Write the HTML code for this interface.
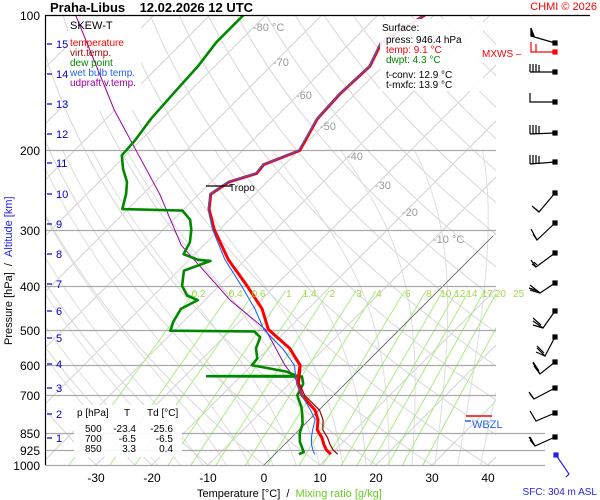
<!DOCTYPE html>
<html><head><meta charset="utf-8"><style>
body{margin:0;background:#fff}
svg{display:block;font-family:"Liberation Sans",sans-serif}
</style></head><body>
<svg id="c" width="600" height="500" viewBox="0 0 600 500" xmlns="http://www.w3.org/2000/svg">
<defs><clipPath id="pc"><rect x="45" y="15" width="451" height="450"/></clipPath></defs>
<g id="bg" clip-path="url(#pc)"></g>
<g id="hl"></g>
<g id="ser" clip-path="url(#pc)"></g>
<g id="ann"></g>
</svg>
<script>
// ---- data ----
const tempP = [946,925,900,870,835,794,755,700,658,600,550,500,450,400,350,300,270,250,235,225,215,200,170,150,130,115,100];
const tempT = [10,8.4,7,5.5,3.2,1.6,-0.7,-5.7,-8.6,-11.4,-16.3,-23.4,-28.2,-35,-43,-50.9,-55.5,-57.9,-56.8,-53.4,-53.7,-49.8,-52.3,-52.7,-52.3,-54.5,-51.6];
const virtT = [11.2,9.6,8.1,6.5,4.2,2.5,0.1,-5.2,-8.3,-11.2,-16.2,-23.3,-28.1,-35,-43,-50.9,-55.5,-57.9,-56.8,-53.4,-53.7,-49.8,-52.3,-52.7,-52.3,-54.5,-51.6];
const wetbT = [7.1,6,4.8,3.6,2.4,1.1,-1.5,-5.7,-8.8,-12.4,-17.6,-24.2,-29.5,-36,-43.6,-51.2,-55.7,-58,-57,-53.6,-53.8,-50,-52.4,-52.8,-52.4,-54.6,-51.7];
const dewP = [946,936,889,850,809,766,742,700,660,636,635,634,620,600,580,550,520,505,503,480,450,430,420,400,370,352,350,340,320,300,285,272,270,250,235,220,205,190,170,150,130,115,100];
const dewT = [4.3,4.8,2.3,0.7,-0.5,-2.5,-3.75,-6.5,-7.5,-9,-26,-10,-12.7,-20,-20.2,-22.3,-23.5,-25.6,-40.7,-41.8,-42.7,-41.3,-44,-46.6,-49,-46,-48.4,-52,-53,-55,-57,-60,-71,-73,-75,-78,-80.7,-81,-82,-82.5,-83,-84,-84];
const parcelP = [660,600,500,430,325,250,163,100];
const parcelT = [-8.2,-14.1,-23.9,-35.5,-54,-67,-90,-114];
const pressLevels = [100,200,300,400,500,600,700,850,925,1000];
const tempTicks = [-30,-20,-10,0,10,20,30,40];
const mixRatios = [0.2,0.4,0.6,1,1.4,2,3,4,6,8,10,12,14,17,20,25];
const kmTicks = [[1,438],[2,414],[3,388],[4,364],[5,338],[6,311],[7,284],[8,254],[9,224],[10,194],[11,163],[12,134],[13,104],[14,74],[15,44]];

const NS="http://www.w3.org/2000/svg";
function yP(p){return 15+450*Math.log10(p/100);}
function xT(T,p){return 264+5.6*T+(465-yP(p));}
function mk(tag,attrs,parent){const e=document.createElementNS(NS,tag);for(const k in attrs)e.setAttribute(k,attrs[k]);parent.appendChild(e);return e;}
function txt(s,x,y,attrs,parent){const e=mk('text',Object.assign({x:x,y:y,'font-size':11},attrs),parent);e.textContent=s;return e;}
const bg=document.getElementById('bg'),hl=document.getElementById('hl'),ser=document.getElementById('ser'),ann=document.getElementById('ann');

for(let T=-140;T<=50;T+=10){
  const l=mk('line',{x1:xT(T,1050),y1:yP(1050),x2:xT(T,100),y2:yP(100),stroke:'#d4d4d4','stroke-width':1},bg);
  
  
}
for(let th=-40;th<=220;th+=10){
  let d='';for(let p=1050;p>=100;p-=10){const T=(th+273.15)*Math.pow(p/1000,0.286)-273.15;d+=(d?'L':'M')+xT(T,p).toFixed(1)+','+yP(p).toFixed(1);}
  const l=mk('path',{d:d,fill:'none',stroke:'#d8d8d8','stroke-width':1},bg);
  
  
}
function es(T){return 6.112*Math.exp(17.67*T/(T+243.5));}
for(let T0=-20;T0<=44;T0+=4){
  let T=T0,d='';
  for(let p=1050;p>=200;p-=5){
    d+=(d?'L':'M')+xT(T,p).toFixed(1)+','+yP(p).toFixed(1);
    const Tk=T+273.15,e=es(T),rs=0.622*e/(p-e),L=2.5e6;
    const g=(287*Tk+L*rs)/(1004+L*L*rs*0.622/(287*Tk*Tk))/p;
    T-=g*5;
  }
  const l=mk('path',{d:d,fill:'none',stroke:'#dedede','stroke-width':1},bg);
  
  
}
function tdFromW(w,p){const e=w*p/(622+w);const a=Math.log(e/6.112);return 243.5*a/(17.67-a);}
mixRatios.forEach(w=>{
  const l=mk('line',{x1:xT(tdFromW(w,1000),1000),y1:yP(1000),x2:xT(tdFromW(w,410),410),y2:yP(410),stroke:'#a8ee80','stroke-width':1},bg);
  
  
  const t=txt(String(w),xT(tdFromW(w,400),400),297,{fill:'#a4d84a','font-size':10,'text-anchor':'middle'},ann);
  
  
});
mk('line',{x1:xT(0,1000),y1:yP(1000),x2:xT(0,310),y2:yP(310),stroke:'#666','stroke-width':0.8},bg);

pressLevels.forEach(p=>{
  const y=Math.round(yP(p))+0.5;
  const x2=p>=850?545:496;
  if(p>100){const l=mk('line',{x1:45,y1:y,x2:x2,y2:y,stroke:'#aaa','stroke-width':1.3},hl);
  
  }
  const t=txt(String(p),40,y+4.5,{'font-size':12,'text-anchor':'end',fill:'#000'},ann);
  
  
});
tempTicks.forEach(T=>{
  const t=txt(String(T),264+5.6*T,482,{'font-size':12,'text-anchor':'middle',fill:'#000'},ann);
  
  
});
kmTicks.forEach(k=>{
  mk('line',{x1:47,y1:k[1],x2:52,y2:k[1],stroke:'#00c','stroke-width':1.2},ann);
  const t=txt(String(k[0]),56,k[1]+4,{'font-size':11,fill:'#00c'},ann);
  
  
});
[['-80 °C',253,31],['-70',273,66],['-60',296,99],['-50',320,130],['-40',347,160],['-30',375,189],['-20',402,216],['-10 °C',433,243]].forEach(a=>{
  const t=txt(a[0],a[1],a[2],{'font-size':11,fill:'#999'},ann);
  
  
});

const lb=mk('rect',{x:68,y:17,width:73,height:93,fill:'#fff'},ser);



function line(P,T,color,w,name){
  let d='';P.forEach((p,i)=>{d+=(i?'L':'M')+xT(T[i],p).toFixed(1)+','+yP(p).toFixed(1);});
  const e=mk('path',{d:d,fill:'none',stroke:color,'stroke-width':w,'stroke-linejoin':'round'},ser);
  
  
}
line(parcelP,parcelT,'#a000a0',1,'updraft-virtual-temperature-line');
line(dewP,dewT,'#008800',2.6,'dew-point-line');
line(tempP,virtT,'#990000',1.2,'virtual-temperature-line');
line(tempP,tempT,'#ff0000',3,'temperature-line');
line(tempP,wetbT,'#2266ee',1.1,'wet-bulb-line');

mk('line',{x1:45.5,y1:15,x2:45.5,y2:465,stroke:'#000','stroke-width':1.2},ann);
mk('line',{x1:45,y1:15.5,x2:590,y2:15.5,stroke:'#000','stroke-width':1.2},ann);

mk('line',{x1:206,y1:186,x2:232,y2:186,stroke:'#000','stroke-width':1.2},ann);
txt('Tropo',229,191,{'font-size':10,fill:'#000'},ann);

mk('line',{x1:466,y1:416,x2:492,y2:416,stroke:'#f00','stroke-width':1.5},ann);
mk('line',{x1:465,y1:421,x2:471,y2:421,stroke:'#2266ee','stroke-width':1.5},ann);
txt('WBZL',472,428,{'font-size':11,fill:'#2266ee'},ann);
</script>
<svg width="600" height="500" style="position:absolute;left:0;top:0" xmlns="http://www.w3.org/2000/svg" font-family="Liberation Sans, sans-serif">
<text x="50" y="12" font-size="13" font-weight="bold">Praha-Libus&#160;&#160;&#160;&#160;12.02.2026 12 UTC</text>
<text x="597" y="10" font-size="11" fill="#f00" text-anchor="end">CHMI © 2026</text>
<g>
<text x="70" y="29" font-size="11">SKEW-T</text>
<text x="70" y="46" font-size="10" fill="#f00">temperature</text>
<text x="70" y="56" font-size="10" fill="#990000">virt.temp.</text>
<text x="70" y="66" font-size="10" fill="#008800">dew point</text>
<text x="70" y="76" font-size="10" fill="#2266ee">wet bulb temp.</text>
<text x="70" y="86" font-size="10" fill="#a000a0">udpraft v.temp.</text>
</g>
<g>
<rect x="380" y="19" width="103" height="72" fill="#fff" opacity="0.9"/>
<text x="382" y="31" font-size="10">Surface:</text>
<text x="386" y="43" font-size="10">press: 946.4 hPa</text>
<text x="386" y="53" font-size="10" fill="#f00">temp: 9.1 °C</text>
<text x="386" y="63" font-size="10" fill="#008800">dwpt: 4.3 °C</text>
<text x="386" y="78" font-size="10">t-conv: 12.9 °C</text>
<text x="386" y="88" font-size="10">t-mxfc: 13.9 °C</text>
</g>
<g>
<rect x="74" y="405" width="108" height="52" fill="#fff" opacity="0.9"/>
<text x="77" y="416" font-size="10">p [hPa]</text><text x="124" y="416" font-size="10">T</text><text x="147" y="416" font-size="10">Td [°C]</text>
<text x="85" y="432" font-size="10">500</text><text x="136" y="432" font-size="10" text-anchor="end">-23.4</text><text x="173" y="432" font-size="10" text-anchor="end">-25.6</text>
<text x="85" y="442" font-size="10">700</text><text x="136" y="442" font-size="10" text-anchor="end">-6.5</text><text x="173" y="442" font-size="10" text-anchor="end">-6.5</text>
<text x="85" y="452" font-size="10">850</text><text x="136" y="452" font-size="10" text-anchor="end">3.3</text><text x="173" y="452" font-size="10" text-anchor="end">0.4</text>
</g>
<text x="197" y="497" font-size="11">Temperature [°C]&#160; / &#160;<tspan fill="#66cc22">Mixing ratio [g/kg]</tspan></text>
<text transform="translate(12,345) rotate(-90)" font-size="11">Pressure [hPa]&#160; / &#160;<tspan fill="#2222ee">Altitude [km]</tspan></text>
<text x="597" y="495" font-size="10" fill="#2222ee" text-anchor="end">SFC: 304 m ASL</text>
<text x="482" y="57" font-size="10" fill="#f00">MXWS –</text>
<g stroke="#000" stroke-width="1.2" fill="none">
<polyline points="555,43 531,36 531,28"/><polygon points="531,28 531,36 534,36" fill="#000"/><rect x="553" y="41" width="4" height="4" fill="#000"/>
<g stroke="#f00"><polyline points="555,52 531,52 531,42"/><line x1="536" y1="52" x2="536" y2="44"/><rect x="553" y="50" width="4" height="4" fill="#f00"/></g>
<polyline points="555,72 530,72"/><line x1="530" y1="72" x2="530" y2="64"/><line x1="533" y1="72" x2="533" y2="64"/><line x1="536" y1="72" x2="536" y2="64"/><line x1="539" y1="72" x2="539" y2="65"/><rect x="553" y="70" width="4" height="4" fill="#000"/>
<polyline points="555,102 530,102 530,93"/><rect x="553" y="100" width="4" height="4" fill="#000"/>
<polyline points="555,133 530,134"/><line x1="530" y1="134" x2="530" y2="125"/><line x1="533" y1="134" x2="533" y2="125"/><line x1="536" y1="134" x2="536" y2="125"/><line x1="539" y1="134" x2="539" y2="126"/><rect x="553" y="131" width="4" height="4" fill="#000"/>
<polyline points="555,162 530,164"/><line x1="530" y1="164" x2="530" y2="155"/><line x1="533" y1="164" x2="533" y2="155"/><line x1="536" y1="164" x2="536" y2="155"/><line x1="539" y1="164" x2="539" y2="156"/><rect x="553" y="160" width="4" height="4" fill="#000"/>
<polyline points="555,193 539,212 532,206"/><line x1="539" y1="212" x2="536" y2="209"/><rect x="553" y="191" width="4" height="4" fill="#000"/>
<polyline points="555,223 537,240 531,229"/><line x1="537" y1="240" x2="533" y2="234"/><rect x="553" y="221" width="4" height="4" fill="#000"/>
<polyline points="555,253 536,267 531,260"/><line x1="536" y1="267" x2="532" y2="264"/><line x1="537" y1="265" x2="534" y2="262"/><rect x="553" y="251" width="4" height="4" fill="#000"/>
<polyline points="555,283 540,293 530,285"/><line x1="540" y1="293" x2="530" y2="290"/><line x1="538" y1="291" x2="529" y2="288"/><rect x="553" y="281" width="4" height="4" fill="#000"/>
<polyline points="555,311 543,328 533,321"/><line x1="543" y1="328" x2="533" y2="325"/><line x1="541" y1="325" x2="533" y2="318"/><rect x="553" y="309" width="4" height="4" fill="#000"/>
<polyline points="555,337 545,356 537,348"/><line x1="545" y1="356" x2="536" y2="352"/><line x1="544" y1="353" x2="537" y2="346"/><rect x="553" y="335" width="4" height="4" fill="#000"/>
<polyline points="555,362 540,374 533,363"/><line x1="540" y1="374" x2="534" y2="366"/><line x1="539" y1="371" x2="533" y2="362"/><rect x="553" y="360" width="4" height="4" fill="#000"/>
<polyline points="555,388 534,399 529,392"/><line x1="534" y1="399" x2="530" y2="394"/><rect x="553" y="386" width="4" height="4" fill="#000"/>
<polyline points="555,413 536,421 530,411"/><rect x="553" y="411" width="4" height="4" fill="#000"/>
<polyline points="555,437 535,446 530,440"/><line x1="535" y1="446" x2="530" y2="437"/><line x1="533" y1="443" x2="529" y2="437"/><rect x="553" y="435" width="4" height="4" fill="#000"/>
<g stroke="#22e"><polyline points="556,455 569,474 566,477"/><rect x="554" y="453" width="4" height="4" fill="#22e"/></g>
</g>
</svg>
</body></html>
